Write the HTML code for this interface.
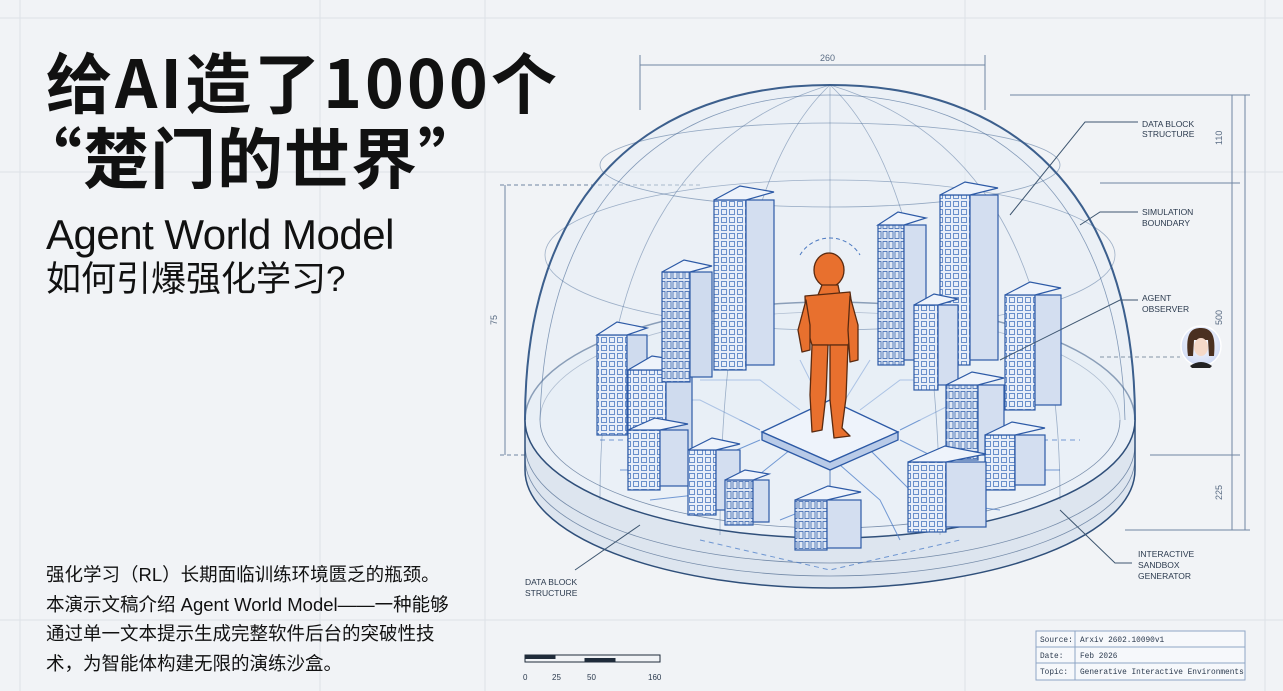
<!DOCTYPE html>
<html><head><meta charset="utf-8">
<style>
html,body{margin:0;padding:0;}
body{width:1283px;height:691px;background:#f1f3f6;position:relative;overflow:hidden;font-family:"Liberation Sans","Noto Sans CJK SC",sans-serif;color:#111;}
.t{position:absolute;white-space:nowrap;}
svg{position:absolute;left:0;top:0;}
</style></head><body>
<svg width="1283" height="691" viewBox="0 0 1283 691">
<defs>
<pattern id="win" width="8" height="8" patternUnits="userSpaceOnUse"><rect width="8" height="8" fill="#e8eef8"/><rect x="1.5" y="1.5" width="5" height="5" fill="none" stroke="#4a78c0" stroke-width="0.8"/></pattern>
<pattern id="win2" width="6" height="10" patternUnits="userSpaceOnUse"><rect width="6" height="10" fill="#dfe7f4"/><rect x="1" y="1.5" width="4" height="7" fill="none" stroke="#3a66b0" stroke-width="0.8"/></pattern>
<radialGradient id="av" cx="50%" cy="40%" r="60%"><stop offset="0" stop-color="#ffffff"/><stop offset="1" stop-color="#cfdaf5"/></radialGradient>
</defs>
<g stroke="#dde1e7" stroke-width="1" fill="none">
<line x1="0" y1="18" x2="1283" y2="18"/>
<line x1="0" y1="172" x2="1283" y2="172"/>
<line x1="0" y1="620" x2="1283" y2="620"/>
<line x1="20" y1="0" x2="20" y2="691"/>
<line x1="320" y1="0" x2="320" y2="691"/>
<line x1="485" y1="0" x2="485" y2="691"/>
<line x1="965" y1="0" x2="965" y2="691"/>
<line x1="1265" y1="0" x2="1265" y2="691"/>
</g>
<g stroke="#6f86a3" stroke-width="1" fill="none">
<line x1="640" y1="65" x2="985" y2="65"/>
<line x1="640" y1="55" x2="640" y2="110"/><line x1="985" y1="55" x2="985" y2="110"/>
<line x1="505" y1="185" x2="505" y2="455"/>
<line x1="500" y1="185" x2="700" y2="185" stroke-dasharray="4 3"/>
<line x1="500" y1="455" x2="560" y2="455" stroke-dasharray="4 3"/>
<line x1="1232" y1="95" x2="1232" y2="530"/>
<line x1="1245" y1="95" x2="1245" y2="530"/>
<line x1="1100" y1="183" x2="1240" y2="183"/>
<line x1="1150" y1="455" x2="1240" y2="455"/>
<line x1="1125" y1="530" x2="1250" y2="530"/>
<line x1="1010" y1="95" x2="1250" y2="95"/>
</g>
<g font-family="Liberation Sans" font-size="9" fill="#5a6c84">
<text x="820" y="61">260</text>
<text x="1222" y="145" transform="rotate(-90 1222 145)" >110</text>
<text x="1222" y="325" transform="rotate(-90 1222 325)">500</text>
<text x="1222" y="500" transform="rotate(-90 1222 500)">225</text>
<text x="497" y="325" transform="rotate(-90 497 325)">75</text>
</g>
<g stroke="#2f4f7a" fill="none" stroke-width="1.5">
<path d="M525 420 L525 470 A305 118 0 0 0 1135 470 L1135 420" fill="#dde5ef"/>
<ellipse cx="830" cy="420" rx="305" ry="118" fill="#eaf0f7"/>
<path d="M525 445 A305 118 0 0 0 1135 445" stroke-width="0.8" opacity="0.6"/>
<path d="M525 458 A305 118 0 0 0 1135 458" stroke-width="0.8" opacity="0.6"/>
<ellipse cx="830" cy="420" rx="290" ry="108" stroke-width="0.8" opacity="0.6"/>
</g>
<g stroke="#4a7cc8" stroke-width="1" fill="none" opacity="0.75">
<path d="M760 430 L700 400 L640 400"/><path d="M760 440 L690 470 L620 470"/>
<path d="M900 430 L960 400 L1040 400"/><path d="M900 440 L960 470 L1060 470"/>
<path d="M830 465 L830 500 L780 520"/><path d="M840 465 L880 500 L900 540"/>
<path d="M800 410 L760 380 L700 380"/><path d="M860 410 L900 380 L980 380"/>
<path d="M790 450 L740 490 L650 500"/><path d="M870 450 L920 500 L1000 510"/>
<path d="M820 400 L800 360"/><path d="M845 400 L870 360"/>
<path d="M600 440 L680 440" stroke-dasharray="5 4"/><path d="M980 440 L1080 440" stroke-dasharray="5 4"/>
<path d="M700 540 L830 570 L960 540" stroke-dasharray="5 4"/>
</g>
<g fill="none" stroke="#3c5f8d">
<path d="M525 420 C525 190 650 85 830 85 C1010 85 1135 190 1135 420" fill="#e6edf6" fill-opacity="0.5" stroke-width="2"/>
<path d="M540 420 C545 205 660 95 830 95 C1000 95 1120 205 1125 420" stroke-width="0.8" opacity="0.6"/>
<ellipse cx="830" cy="165" rx="230" ry="42" stroke-width="0.8" opacity="0.5"/>
<ellipse cx="830" cy="255" rx="285" ry="75" stroke-width="0.8" opacity="0.45"/>
<path d="M830 85 C760 150 720 300 720 535" stroke-width="0.8" opacity="0.45"/>
<path d="M830 85 C900 150 940 300 940 535" stroke-width="0.8" opacity="0.45"/>
<path d="M830 85 C680 130 600 260 600 500" stroke-width="0.8" opacity="0.45"/>
<path d="M830 85 C980 130 1060 260 1060 500" stroke-width="0.8" opacity="0.45"/>
<line x1="830" y1="85" x2="830" y2="538" stroke-width="0.8" opacity="0.4"/>
</g>
<g stroke="#2d5aa6" stroke-width="1.2">
<g><rect x="597" y="335" width="30" height="100" fill="url(#win)"/><rect x="627" y="335" width="20" height="95" fill="#cfdbee"/><path d="M597 335 L617 322 L647 328 L627 335Z" fill="#eef3fb"/></g>
<g><rect x="628" y="370" width="38" height="105" fill="url(#win)"/><rect x="666" y="370" width="26" height="100" fill="#cfdbee"/><path d="M628 370 L652 356 L692 362 L666 370Z" fill="#eef3fb"/></g>
<g><rect x="662" y="272" width="28" height="110" fill="url(#win2)"/><rect x="690" y="272" width="22" height="105" fill="#cfdbee"/><path d="M662 272 L684 260 L712 266 L690 272Z" fill="#eef3fb"/></g>
<g><rect x="714" y="200" width="32" height="170" fill="url(#win)"/><rect x="746" y="200" width="28" height="165" fill="#d3def0"/><path d="M714 200 L740 186 L774 192 L746 200Z" fill="#eef3fb"/></g>
<g><rect x="878" y="225" width="26" height="140" fill="url(#win2)"/><rect x="904" y="225" width="22" height="135" fill="#d3def0"/><path d="M878 225 L898 212 L926 218 L904 225Z" fill="#eef3fb"/></g>
<g><rect x="940" y="195" width="30" height="170" fill="url(#win)"/><rect x="970" y="195" width="28" height="165" fill="#d3def0"/><path d="M940 195 L965 182 L998 188 L970 195Z" fill="#eef3fb"/></g>
<g><rect x="914" y="305" width="24" height="85" fill="url(#win)"/><rect x="938" y="305" width="20" height="80" fill="#d3def0"/><path d="M914 305 L934 294 L958 299 L938 305Z" fill="#eef3fb"/></g>
<g><rect x="1005" y="295" width="30" height="115" fill="url(#win)"/><rect x="1035" y="295" width="26" height="110" fill="#d3def0"/><path d="M1005 295 L1030 282 L1061 288 L1035 295Z" fill="#eef3fb"/></g>
<g><rect x="946" y="385" width="32" height="75" fill="url(#win2)"/><rect x="978" y="385" width="26" height="70" fill="#d3def0"/><path d="M946 385 L972 372 L1004 378 L978 385Z" fill="#eef3fb"/></g>
<g><rect x="985" y="435" width="30" height="55" fill="url(#win)"/><rect x="1015" y="435" width="30" height="50" fill="#d3def0"/><path d="M985 435 L1012 422 L1045 428 L1015 435Z" fill="#eef3fb"/></g>
<g><rect x="908" y="462" width="38" height="70" fill="url(#win)"/><rect x="946" y="462" width="40" height="65" fill="#d3def0"/><path d="M908 462 L945 446 L986 454 L946 462Z" fill="#eef3fb"/></g>
<g><rect x="795" y="500" width="32" height="50" fill="url(#win2)"/><rect x="827" y="500" width="34" height="48" fill="#d3def0"/><path d="M795 500 L828 486 L861 492 L827 500Z" fill="#eef3fb"/></g>
<g><rect x="688" y="450" width="28" height="65" fill="url(#win)"/><rect x="716" y="450" width="24" height="60" fill="#d3def0"/><path d="M688 450 L712 438 L740 444 L716 450Z" fill="#eef3fb"/></g>
<g><rect x="725" y="480" width="28" height="45" fill="url(#win2)"/><rect x="753" y="480" width="16" height="42" fill="#d3def0"/><path d="M725 480 L745 470 L769 474 L753 480Z" fill="#eef3fb"/></g>
<g><rect x="628" y="430" width="32" height="60" fill="url(#win)"/><rect x="660" y="430" width="28" height="56" fill="#d3def0"/><path d="M628 430 L655 418 L688 424 L660 430Z" fill="#eef3fb"/></g>
</g>
<g stroke="#2d5aa6" stroke-width="1.3">
<path d="M762 432 L830 400 L898 432 L830 462Z" fill="#eef3fb"/>
<path d="M762 432 L762 440 L830 470 L898 440 L898 432 L830 462Z" fill="#b9cbe8"/>
</g>
<g fill="#e8702e" stroke="#5a2a10" stroke-width="1.3" stroke-linejoin="round">
<ellipse cx="829" cy="270" rx="15" ry="17"/>
<path d="M822 285 L838 285 L840 295 L818 295Z"/>
<path d="M805 296 L850 292 L855 330 L848 345 L812 345 L806 325Z"/>
<path d="M806 300 L798 330 L802 352 L810 350 L810 325Z"/>
<path d="M850 296 L858 325 L858 360 L850 362 L848 330Z"/>
<path d="M812 345 L828 345 L826 395 L822 430 L812 432 L810 395Z"/>
<path d="M830 345 L848 345 L846 398 L842 428 L850 436 L834 438 L830 400Z"/>
</g>
<path d="M800 255 A35 35 0 0 1 860 255" fill="none" stroke="#4a78c0" stroke-dasharray="4 3"/>
<g stroke="#3e5670" stroke-width="1" fill="none">
<path d="M1138 122 L1085 122 L1010 215"/>
<path d="M1138 212 L1100 212 L1080 225"/>
<path d="M1138 300 L1120 300 L1000 360"/>
<path d="M1132 563 L1115 563 L1060 510"/>
<path d="M575 570 L640 525"/>
<line x1="1100" y1="357" x2="1180" y2="357" stroke-dasharray="4 3" opacity="0.6"/>
</g>
<g font-family="Liberation Sans" font-size="8.5" fill="#2b3a4e">
<text x="1142" y="127">DATA BLOCK</text><text x="1142" y="137">STRUCTURE</text>
<text x="1142" y="215">SIMULATION</text><text x="1142" y="226">BOUNDARY</text>
<text x="1142" y="301">AGENT</text><text x="1142" y="312">OBSERVER</text>
<text x="1138" y="557">INTERACTIVE</text><text x="1138" y="568">SANDBOX</text><text x="1138" y="579">GENERATOR</text>
<text x="525" y="585">DATA BLOCK</text><text x="525" y="596">STRUCTURE</text>
</g>
<circle cx="1201" cy="346" r="20" fill="url(#av)" stroke="#ffffff" stroke-width="1.5"/>
<path d="M1188 356 C1185 332 1192 328 1201 328 C1212 328 1216 336 1214 356 L1209 356 L1208 340 L1194 340 L1193 356Z" fill="#4a3020"/>
<ellipse cx="1201" cy="347" rx="7" ry="9" fill="#f5d9c8"/>
<path d="M1190 366 Q1201 358 1212 366 L1210 368 L1192 368Z" fill="#222"/>
<g stroke="#1f2b3a" stroke-width="1" fill="none">
<rect x="525" y="655" width="135" height="7"/>
<rect x="525" y="655" width="30" height="3.5" fill="#1f2b3a"/>
<rect x="585" y="658.5" width="30" height="3.5" fill="#1f2b3a"/>
</g>
<g font-family="Liberation Sans" font-size="8" fill="#2b3a4e">
<text x="523" y="680">0</text><text x="552" y="680">25</text><text x="587" y="680">50</text><text x="648" y="680">160</text>
</g>
<g stroke="#8ea6c6" stroke-width="1" fill="#f6f8fb">
<rect x="1036" y="631" width="209" height="49"/>
<line x1="1036" y1="647" x2="1245" y2="647"/><line x1="1036" y1="663" x2="1245" y2="663"/>
<line x1="1075" y1="631" x2="1075" y2="680"/>
</g>
<g font-family="Liberation Mono" font-size="7.8" fill="#2b3a4e">
<text x="1040" y="642">Source:</text><text x="1080" y="642">Arxiv 2602.10090v1</text>
<text x="1040" y="658">Date:</text><text x="1080" y="658">Feb 2026</text>
<text x="1040" y="674">Topic:</text><text x="1080" y="674">Generative Interactive Environments</text>
</g>
</svg>
<div class="t" style="left:46px;top:42px;font-family:'Noto Sans CJK SC',sans-serif;font-size:66px;font-weight:bold;line-height:76px;letter-spacing:3px;">给AI造了1000个</div>
<div class="t" style="left:16px;top:117px;font-family:'Noto Sans CJK SC',sans-serif;font-size:66px;font-weight:bold;line-height:76px;letter-spacing:1px;">“楚门的世界”</div>
<div class="t" style="left:46px;top:211px;font-size:42px;line-height:48px;letter-spacing:-0.5px;">Agent World Model</div>
<div class="t" style="left:46px;top:259px;font-size:35px;line-height:42px;">如何引爆强化学习?</div>
<div class="t" style="left:46px;top:560px;font-size:18.5px;line-height:29.5px;">强化学习（RL）长期面临训练环境匮乏的瓶颈。<br>本演示文稿介绍 Agent World Model——一种能够<br>通过单一文本提示生成完整软件后台的突破性技<br>术，为智能体构建无限的演练沙盒。</div>
</body></html>
